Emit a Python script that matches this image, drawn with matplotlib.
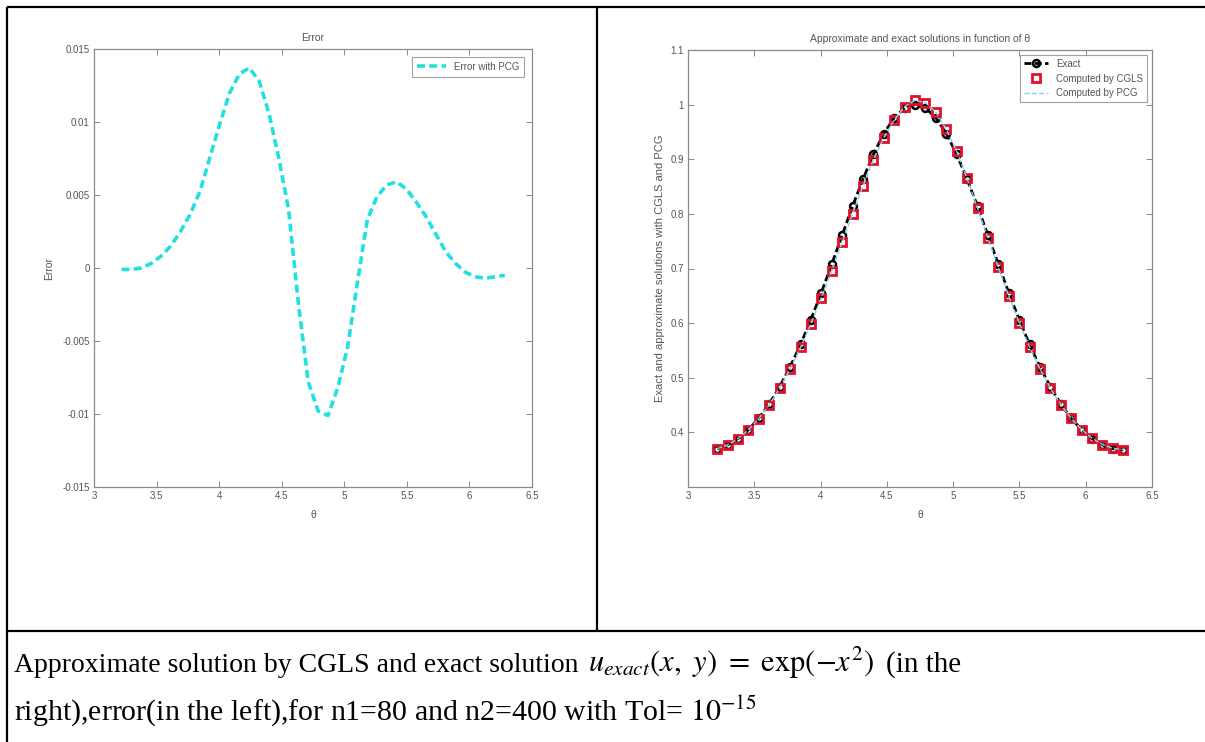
import matplotlib
matplotlib.use("Agg")
import matplotlib.pyplot as plt
from matplotlib.lines import Line2D

# theta samples (40 points between pi and 2*pi)
theta = [3.220, 3.299, 3.377, 3.456, 3.534, 3.613, 3.691, 3.770, 3.849, 3.927,
         4.006, 4.084, 4.163, 4.241, 4.320, 4.398, 4.477, 4.555, 4.634, 4.712,
         4.791, 4.870, 4.948, 5.027, 5.105, 5.184, 5.262, 5.341, 5.419, 5.498,
         5.576, 5.655, 5.733, 5.812, 5.890, 5.969, 6.048, 6.126, 6.205, 6.283]

# error with PCG (left plot)
error_pcg = [-0.0001, -0.0001, 0.0000, 0.0003, 0.0008, 0.0015, 0.0025, 0.0037, 0.0053, 0.0076,
             0.0099, 0.0120, 0.0133, 0.0137, 0.0128, 0.0106, 0.0075, 0.0040, -0.0025, -0.0078,
             -0.0098, -0.0101, -0.0082, -0.0054, -0.0010, 0.0033, 0.0049, 0.0057, 0.0059, 0.0054,
             0.0045, 0.0035, 0.0023, 0.0011, 0.0003, -0.0003, -0.0006, -0.0007, -0.0006, -0.0005]

# exact and computed solutions (right plot)
exact = [0.3701, 0.3770, 0.3885, 0.4048, 0.4259, 0.4521, 0.4834, 0.5197, 0.5609, 0.6065,
         0.6559, 0.7079, 0.7611, 0.8138, 0.8638, 0.9089, 0.9470, 0.9758, 0.9939, 1.0000,
         0.9939, 0.9758, 0.9470, 0.9089, 0.8638, 0.8138, 0.7611, 0.7079, 0.6559, 0.6065,
         0.5609, 0.5197, 0.4834, 0.4521, 0.4259, 0.4048, 0.3885, 0.3770, 0.3701, 0.3679]

cgls = [0.3702, 0.3771, 0.3885, 0.4045, 0.4251, 0.4506, 0.4809, 0.5160, 0.5556, 0.5989,
        0.6460, 0.6959, 0.7478, 0.8001, 0.8510, 0.8983, 0.9395, 0.9718, 0.9964, 1.0078,
        1.0037, 0.9859, 0.9552, 0.9143, 0.8648, 0.8105, 0.7562, 0.7022, 0.6500, 0.6011,
        0.5564, 0.5162, 0.4811, 0.4510, 0.4256, 0.4051, 0.3891, 0.3777, 0.3707, 0.3684]

pcg = cgls

left_yticks = [-0.015, -0.01, -0.005, 0, 0.005, 0.01, 0.015]
left_yticklabels = ["-0.015", "-0.01", "-0.005", "0", "0.005", "0.01", "0.015"]
right_yticks = [0.4, 0.5, 0.6, 0.7, 0.8, 0.9, 1.0, 1.1]
right_yticklabels = ["0.4", "0.5", "0.6", "0.7", "0.8", "0.9", "1", "1.1"]
xticks = [3, 3.5, 4, 4.5, 5, 5.5, 6, 6.5]
xticklabels = ["3", "3.5", "4", "4.5", "5", "5.5", "6", "6.5"]

plt.rcParams['font.family'] = ['Liberation Sans', 'DejaVu Sans']
plt.rcParams['mathtext.fontset'] = 'stix'

W, H = 1205, 742
fig = plt.figure(figsize=(W / 100, H / 100), dpi=100)

# background axes in pixel coords for the table frame and caption
bg = fig.add_axes([0, 0, 1, 1], zorder=-1)
bg.set_xlim(0, W)
bg.set_ylim(H, 0)
bg.axis('off')
for (x0, y0, x1, y1) in [(7, 7, W, 7), (7, 7, 7, H), (597, 7, 597, 631), (7, 631, W, 631)]:
    bg.add_line(Line2D([x0, x1], [y0, y1], color='black', lw=1.6, solid_capstyle='butt'))

# caption, first line built from pieces placed one after the other
cap_font = ['Liberation Serif', 'DejaVu Serif']
renderer = fig.canvas.get_renderer()
pieces = [("Approximate solution by CGLS and exact solution", 20, 0),
          (r"$u_{exact}(x,\ y)\ =\ \mathrm{exp}(-x^2)$", 22, 9),
          ("(in the", 21, 12)]
x = 14
for txt, size, gap in pieces:
    t = bg.text(x + gap, 672, txt, fontsize=size, family=cap_font, va='baseline')
    x = t.get_window_extent(renderer).x1
bg.text(14, 720, r"right),error(in the left),for n1=80 and n2=400 with Tol= $10^{-15}$",
        fontsize=21.5, family=cap_font, va='baseline')

gray = '#555555'
spine_col = '#8a8a8a'


def style_axes(ax):
    for s in ax.spines.values():
        s.set_color(spine_col)
        s.set_linewidth(0.9)
    ax.tick_params(direction='in', top=True, right=True, length=4, width=0.7,
                   colors=spine_col, labelcolor=gray, labelsize=7, pad=3)
    ax.set_xlim(3, 6.5)
    ax.set_xticks(xticks)
    ax.set_xticklabels(xticklabels)


# left: error
ax1 = fig.add_axes([94 / W, 1 - 487 / H, 438 / W, 438 / H])
ax1.plot(theta, error_pcg, color='#22e0e0', ls=(0, (2.2, 1.2)), lw=2.6, label='Error with PCG')
ax1.set_ylim(-0.015, 0.015)
ax1.set_yticks(left_yticks)
ax1.set_yticklabels(left_yticklabels)
style_axes(ax1)
ax1.set_title('Error', fontsize=7.5, color=gray, pad=6)
ax1.set_xlabel('θ', fontsize=7.5, color=gray, labelpad=6)
ax1.set_ylabel('Error', fontsize=7.5, color=gray, labelpad=6)
leg1 = ax1.legend(loc='upper right', fontsize=7, frameon=True, fancybox=False,
                  handlelength=3, borderpad=0.5, borderaxespad=0.8)
leg1.get_frame().set_edgecolor(spine_col)
leg1.get_frame().set_linewidth(0.8)
for t in leg1.get_texts():
    t.set_color(gray)

# right: solutions
ax2 = fig.add_axes([688 / W, 1 - 487 / H, 464 / W, 437 / H])
ax2.plot(theta, exact, color='black', ls=(0, (2.5, 1.2)), lw=2, marker='o', ms=5,
         mfc='none', mew=1.8, label='Exact')
ax2.plot(theta, cgls, ls='none', marker='s', ms=5.5, mfc='none', mec='#e0102a', mew=2,
         label='Computed by CGLS')
ax2.plot(theta, pcg, color='#7fd6ea', ls='--', lw=1, label='Computed by PCG')
ax2.set_ylim(0.3, 1.1)
ax2.set_yticks(right_yticks)
ax2.set_yticklabels(right_yticklabels)
style_axes(ax2)
ax2.set_title('Approximate and exact solutions in function of θ', fontsize=7.5, color=gray, pad=6)
ax2.set_xlabel('θ', fontsize=7.5, color=gray, labelpad=6)
ax2.set_ylabel('Exact and approximate solutions with CGLS and PCG', fontsize=8, color=gray, labelpad=4)
leg2 = ax2.legend(loc='upper right', fontsize=7, frameon=True, fancybox=False,
                  handlelength=2.5, borderpad=0.4, borderaxespad=0.5, labelspacing=0.5)
leg2.get_frame().set_edgecolor(spine_col)
leg2.get_frame().set_linewidth(0.8)
for t in leg2.get_texts():
    t.set_color(gray)

fig.savefig('out.png', dpi=100)
